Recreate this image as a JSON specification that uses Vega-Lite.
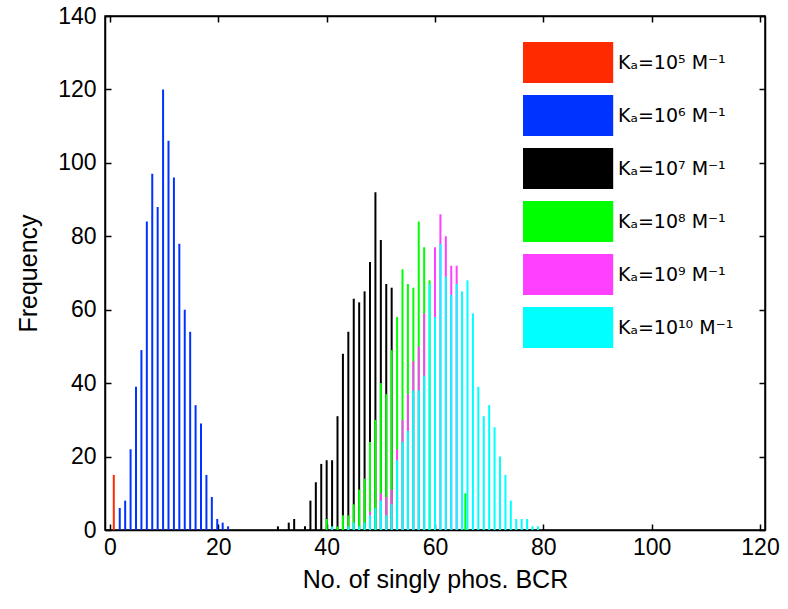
{
  "$schema": "https://vega.github.io/schema/vega-lite/v6.json",
  "width": 660,
  "height": 514,
  "autosize": {"type": "none"},
  "padding": {"left": 105, "top": 16, "right": 23, "bottom": 79},
  "background": "white",
  "config": {
    "view": {"stroke": "black", "strokeWidth": 1.5},
    "axis": {
      "domainColor": "black", "domainWidth": 1.5,
      "tickColor": "black", "tickSize": -6, "tickWidth": 1.5,
      "grid": false,
      "labelFont": "Liberation Sans", "labelFontSize": 23, "labelColor": "black",
      "titleFont": "Liberation Sans", "titleFontSize": 25, "titleFontWeight": "normal", "titleColor": "black"
    },
    "legend": {
      "orient": "none", "legendX": 418, "legendY": 26, "padding": 0,
      "title": null,
      "symbolType": "M-1,-1H3.4V1H-1Z", "symbolSize": 1681, "symbolStrokeWidth": 0,
      "labelOffset": 54, "rowPadding": 12,
      "labelFont": "DejaVu Sans", "labelFontSize": 19, "labelColor": "black", "labelLimit": 300
    }
  },
  "data": {"values": [
    {"ka":5,"x":0.7,"n":15},
    {"ka":6,"x":1.8,"n":6},{"ka":6,"x":2.8,"n":8},{"ka":6,"x":3.8,"n":22},{"ka":6,"x":4.8,"n":39},{"ka":6,"x":5.8,"n":49},{"ka":6,"x":6.8,"n":84},{"ka":6,"x":7.8,"n":97},{"ka":6,"x":8.8,"n":88},{"ka":6,"x":9.8,"n":120},{"ka":6,"x":10.8,"n":106},{"ka":6,"x":11.8,"n":96},{"ka":6,"x":12.8,"n":78},{"ka":6,"x":13.8,"n":60},{"ka":6,"x":14.8,"n":54},{"ka":6,"x":15.8,"n":34},{"ka":6,"x":16.8,"n":29},{"ka":6,"x":17.8,"n":15},{"ka":6,"x":18.8,"n":9},{"ka":6,"x":19.8,"n":3},{"ka":6,"x":20.8,"n":2},{"ka":6,"x":21.8,"n":1},
    {"ka":7,"x":31,"n":1},{"ka":7,"x":33,"n":2},{"ka":7,"x":34,"n":3},{"ka":7,"x":36,"n":1},{"ka":7,"x":37,"n":8},{"ka":7,"x":38,"n":13},{"ka":7,"x":39,"n":18},{"ka":7,"x":40,"n":19},{"ka":7,"x":41,"n":19},{"ka":7,"x":42,"n":31},{"ka":7,"x":43,"n":48},{"ka":7,"x":44,"n":54},{"ka":7,"x":45,"n":63},{"ka":7,"x":46,"n":62},{"ka":7,"x":47,"n":65},{"ka":7,"x":48,"n":73},{"ka":7,"x":49,"n":92},{"ka":7,"x":50,"n":79},{"ka":7,"x":51,"n":67},{"ka":7,"x":52,"n":66},
    {"ka":8,"x":40,"n":3},{"ka":8,"x":42,"n":1},{"ka":8,"x":43,"n":4},{"ka":8,"x":44,"n":4},{"ka":8,"x":45,"n":7},{"ka":8,"x":46,"n":11},{"ka":8,"x":47,"n":14},{"ka":8,"x":48,"n":24},{"ka":8,"x":49,"n":30},{"ka":8,"x":50,"n":40},{"ka":8,"x":51,"n":37},{"ka":8,"x":52,"n":49},{"ka":8,"x":53,"n":58},{"ka":8,"x":54,"n":71},{"ka":8,"x":55,"n":67},{"ka":8,"x":56,"n":66},{"ka":8,"x":57,"n":84},{"ka":8,"x":58,"n":77},{"ka":8,"x":59,"n":68},{"ka":8,"x":65.6,"n":10},
    {"ka":9,"x":48,"n":5},{"ka":9,"x":50,"n":10},{"ka":9,"x":51,"n":9},{"ka":9,"x":52,"n":11},{"ka":9,"x":53,"n":22},{"ka":9,"x":54,"n":30},{"ka":9,"x":55,"n":37},{"ka":9,"x":56,"n":46},{"ka":9,"x":57,"n":50},{"ka":9,"x":58,"n":59},{"ka":9,"x":60,"n":77},{"ka":9,"x":61,"n":86},{"ka":9,"x":62,"n":80},{"ka":9,"x":63,"n":72},{"ka":9,"x":64,"n":72},
    {"ka":10,"x":41,"n":1},{"ka":10,"x":44,"n":1},{"ka":10,"x":45,"n":2},{"ka":10,"x":46,"n":1},{"ka":10,"x":47,"n":2},{"ka":10,"x":48,"n":4},{"ka":10,"x":49,"n":6},{"ka":10,"x":50,"n":8},{"ka":10,"x":51,"n":4},{"ka":10,"x":52,"n":7},{"ka":10,"x":53,"n":19},{"ka":10,"x":54,"n":24},{"ka":10,"x":55,"n":27},{"ka":10,"x":56,"n":38},{"ka":10,"x":57,"n":38},{"ka":10,"x":58,"n":42},{"ka":10,"x":59,"n":67},{"ka":10,"x":60,"n":58},{"ka":10,"x":61,"n":78},{"ka":10,"x":62,"n":69},{"ka":10,"x":63,"n":64},{"ka":10,"x":64,"n":67},{"ka":10,"x":65,"n":65},{"ka":10,"x":66,"n":68},{"ka":10,"x":67,"n":59},{"ka":10,"x":68,"n":39},{"ka":10,"x":69,"n":31},{"ka":10,"x":70,"n":34},{"ka":10,"x":71,"n":28},{"ka":10,"x":72,"n":20},{"ka":10,"x":73,"n":15},{"ka":10,"x":74,"n":8},{"ka":10,"x":75,"n":3},{"ka":10,"x":76,"n":3},{"ka":10,"x":77,"n":3},{"ka":10,"x":78,"n":1},{"ka":10,"x":79,"n":1}
  ]},
  "layer": [
    {
      "mark": {"type": "bar", "size": 2},
      "encoding": {
        "x": {"field": "x", "type": "quantitative",
              "scale": {"domain": [0, 120], "nice": false, "zero": false},
              "axis": {"orient": "bottom", "values": [0, 20, 40, 60, 80, 100, 120], "labelPadding": 12, "title": "No. of singly phos. BCR", "titlePadding": 8}},
        "y": {"field": "n", "type": "quantitative", "stack": null,
              "scale": {"domain": [0, 140], "nice": false},
              "axis": {"orient": "left", "values": [0, 20, 40, 60, 80, 100, 120, 140], "labelPadding": 15, "title": "Frequency", "titlePadding": 16}},
        "color": {"field": "ka", "type": "nominal",
                  "scale": {"domain": [5, 6, 7, 8, 9, 10], "range": ["#ff2a00", "#0033ff", "#000000", "#00ff00", "#ff40ff", "#00ffff"]},
                  "legend": {"labelExpr": "datum.value == 5 ? 'Kₐ=10⁵ M⁻¹' : datum.value == 6 ? 'Kₐ=10⁶ M⁻¹' : datum.value == 7 ? 'Kₐ=10⁷ M⁻¹' : datum.value == 8 ? 'Kₐ=10⁸ M⁻¹' : datum.value == 9 ? 'Kₐ=10⁹ M⁻¹' : 'Kₐ=10¹⁰ M⁻¹'"}}
      }
    },
    {
      "mark": {"type": "point", "opacity": 0},
      "encoding": {
        "x": {"field": "x", "type": "quantitative",
              "axis": {"orient": "top", "values": [0, 20, 40, 60, 80, 100, 120], "labels": false, "title": null}},
        "y": {"field": "n", "type": "quantitative",
              "axis": {"orient": "right", "values": [0, 20, 40, 60, 80, 100, 120, 140], "labels": false, "title": null}}
      }
    }
  ]
}
